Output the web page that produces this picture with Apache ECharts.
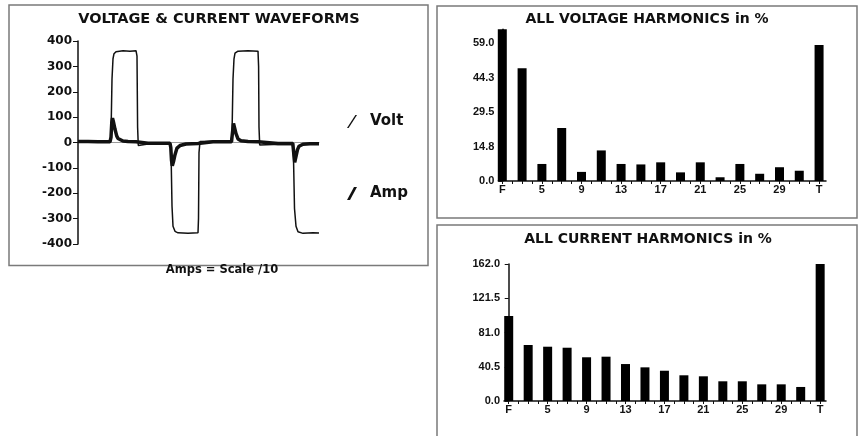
<!DOCTYPE html>
<html>
<head>
<meta charset="utf-8">
<script src="https://cdn.jsdelivr.net/npm/echarts@6/dist/echarts.min.js"></script>
<style>html,body{margin:0;padding:0;background:#fff;}#c{width:858px;height:436px;}</style>
</head>
<body>
<div id="c"></div>
<script>
// ---- Waveform data (time in samples, value in V / A*10) ----
const voltTime = [0,10,20,32,33,34,35,36,38,45,52,58,59,59.6,60.3,70,80,92,93,94,95,97,100,110,120,120.5,121,122,135,153,154,155,156,157,160,170,180,180.6,181,181.7,195,214.5,215.5,216.5,218,220,225,235,241];
const voltValues = [4,5,4,4,30,250,330,350,358,362,360,362,340,60,-12,-6,-5,-5,-30,-250,-330,-350,-356,-358,-356,-300,-40,4,5,4,30,250,330,352,360,362,360,300,60,-10,-8,-8,-60,-260,-330,-352,-358,-356,-357];
const ampTime = [0,10,20,32,33,33.8,34.5,35.5,37,38.7,40,42,45,50,58,59.5,70,92,92.8,93.5,94.3,95.5,97,99,102,108,120,121.5,135,153.5,154.5,155.5,156.5,158,160,163,170,180,181.5,200,214.8,215.7,216.7,218,219.5,221,225,232,241];
const ampValues = [4,4,3,3,20,80,96,80,52,26,16,10,6,4,3,-3,-3,-3,-20,-70,-92,-75,-48,-22,-12,-6,-4,2,3,3,40,75,70,35,14,7,4,3,-3,-4,-4,-40,-78,-55,-28,-15,-7,-5,-5];
const waveTicks = [-400,-300,-200,-100,0,100,200,300,400];

// ---- Harmonics ----
const harmCats = ['F','3','5','7','9','11','13','15','17','19','21','23','25','27','29','31','T'];
const voltHarm = [65.0,48.3,7.3,22.7,3.9,13.1,7.3,7.1,8.0,3.7,8.0,1.6,7.3,3.1,5.9,4.4,58.3];
const currHarm = [100.5,66.2,64.2,63.0,51.7,52.4,43.7,39.8,35.8,30.4,29.2,23.3,23.3,19.7,19.7,16.6,162.0];
const voltTickVals = [0,14.75,29.5,44.25,59];
const voltTickLabels = ['0.0','14.8','29.5','44.3','59.0'];
const currTickVals = [0,40.5,81,121.5,162];
const currTickLabels = ['0.0','40.5','81.0','121.5','162.0'];

const zip = (a,b) => a.map((x,i)=>[x,b[i]]);
const idx = harmCats.map((_,i)=>i);
const labelIdx = idx.filter(i=>i%2===0);
const halfTicks = []; for (let k=0;k<=32;k++) halfTicks.push(k/2);

const FONT = '"DejaVu Sans", sans-serif';
const RFONT = '"Liberation Sans", Arial, sans-serif';

function harmX(gi, min, max){
  return {
    type:'value', gridIndex:gi, min:min, max:max,
    axisLine:{show:true,onZero:false,lineStyle:{color:'#111',width:1.5}},
    axisTick:{show:true,inside:false,length:3,customValues:halfTicks,lineStyle:{color:'#111',width:1}},
    axisLabel:{show:true,customValues:labelIdx,margin:3,fontFamily:RFONT,fontWeight:'bold',fontSize:11,color:'#111',
      formatter:v=>harmCats[Math.round(v)]},
    splitLine:{show:false}
  };
}
function harmY(gi, max, vals, labels){
  return {
    type:'value', gridIndex:gi, min:0, max:max,
    axisLine:{show:true,lineStyle:{color:'#111',width:1.5}},
    axisTick:{show:true,length:4,customValues:vals,lineStyle:{color:'#111'}},
    axisLabel:{show:true,customValues:vals,margin:4,fontFamily:RFONT,fontWeight:'bold',fontSize:11,color:'#111',
      formatter:v=>{const i=vals.findIndex(x=>Math.abs(x-v)<1e-6);return i>=0?labels[i]:'';}},
    splitLine:{show:false}
  };
}

const chart = echarts.init(document.getElementById('c'), null, {renderer:'canvas'});
chart.setOption({
  animation:false,
  backgroundColor:'#fff',
  graphic:[
    {type:'rect',shape:{x:9,y:5,width:419,height:260.5},style:{fill:'none',stroke:'#7a7a7a',lineWidth:1.5},z:-1},
    {type:'rect',shape:{x:437,y:6,width:420,height:212},style:{fill:'none',stroke:'#7a7a7a',lineWidth:1.5},z:-1},
    {type:'rect',shape:{x:437,y:225,width:420,height:230},style:{fill:'none',stroke:'#7a7a7a',lineWidth:1.5},z:-1},
    {type:'text',x:222,y:270,style:{text:'Amps = Scale /10',fontFamily:FONT,fontWeight:'bold',fontSize:11.5,fill:'#111',align:'center',verticalAlign:'middle'}}
  ],
  title:[
    {text:'VOLTAGE & CURRENT WAVEFORMS',left:219,top:12,textAlign:'center',padding:0,
      textStyle:{fontFamily:FONT,fontWeight:'bold',fontSize:14.5,color:'#111'}},
    {text:'ALL VOLTAGE HARMONICS in %',left:647,top:12,textAlign:'center',padding:0,
      textStyle:{fontFamily:FONT,fontWeight:'bold',fontSize:14,color:'#111'}},
    {text:'ALL CURRENT HARMONICS in %',left:648,top:232,textAlign:'center',padding:0,
      textStyle:{fontFamily:FONT,fontWeight:'bold',fontSize:14,color:'#111'}}
  ],
  legend:{
    orient:'vertical',left:347,top:114,padding:0,itemWidth:10,itemHeight:13,itemGap:57,
    textStyle:{fontFamily:FONT,fontWeight:'bold',fontSize:15,color:'#111',padding:[0,0,0,8]},
    data:[
      {name:'Volt',icon:'path://M0,13 L1.6,13 L10,0 L8.4,0 Z'},
      {name:'Amp',icon:'path://M0,13 L3,13 L10,0 L7,0 Z'}
    ]
  },
  grid:[
    {left:78,top:41,width:241,height:203},
    {left:498.3,top:29.3,width:327.7,height:151.7},
    {left:504,top:264,width:322,height:137}
  ],
  xAxis:[
    {type:'value',gridIndex:0,min:0,max:241,
      axisLine:{show:true,onZero:true,lineStyle:{color:'#999',width:1}},
      axisTick:{show:false},axisLabel:{show:false},splitLine:{show:false}},
    harmX(1,-0.202,16.35),
    harmX(2,-0.242,16.3)
  ],
  yAxis:[
    {type:'value',gridIndex:0,min:-400,max:400,interval:100,
      axisLine:{show:true,lineStyle:{color:'#111',width:1.5}},
      axisTick:{show:true,length:5,lineStyle:{color:'#111'}},
      axisLabel:{margin:6,fontFamily:FONT,fontWeight:'bold',fontSize:12,color:'#111',
        formatter:v=>waveTicks.includes(v)?String(v):''},
      splitLine:{show:false}},
    harmY(1,65,voltTickVals,voltTickLabels),
    harmY(2,162,currTickVals,currTickLabels)
  ],
  series:[
    {name:'Volt',type:'line',xAxisIndex:0,yAxisIndex:0,data:zip(voltTime,voltValues),
      showSymbol:false,symbol:'none',lineStyle:{color:'#111',width:1.5},itemStyle:{color:'#111'},z:2},
    {name:'Amp',type:'line',xAxisIndex:0,yAxisIndex:0,data:zip(ampTime,ampValues),
      showSymbol:false,symbol:'none',lineStyle:{color:'#111',width:3.5},itemStyle:{color:'#111'},z:3},
    {name:'Voltage harmonics',type:'bar',xAxisIndex:1,yAxisIndex:1,data:zip(idx,voltHarm),
      barWidth:9,itemStyle:{color:'#000'}},
    {name:'Current harmonics',type:'bar',xAxisIndex:2,yAxisIndex:2,data:zip(idx,currHarm),
      barWidth:9,itemStyle:{color:'#000'}}
  ]
});
</script>
</body>
</html>
